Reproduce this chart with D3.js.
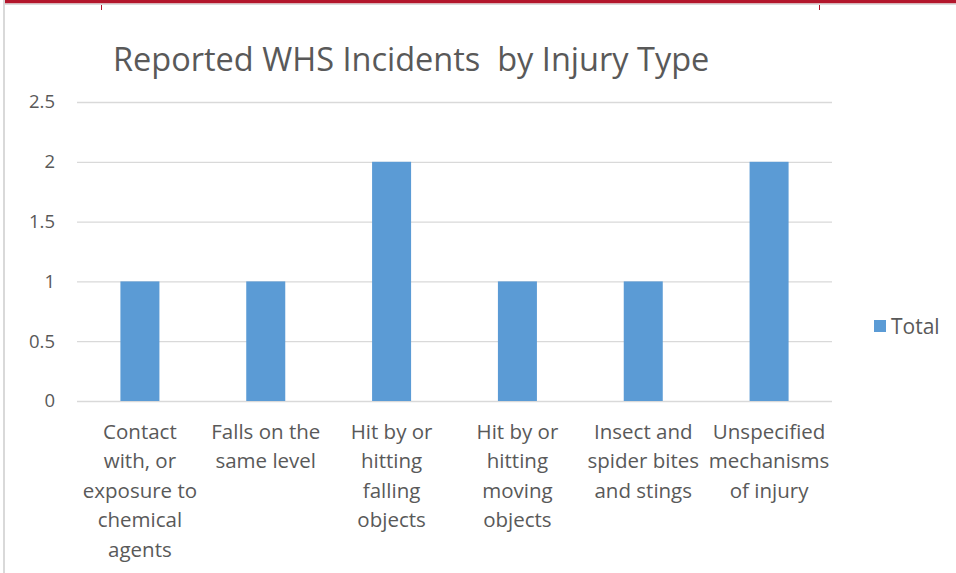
<!DOCTYPE html>
<html>
<head>
<meta charset="utf-8">
<script src="https://cdn.jsdelivr.net/npm/d3@7"></script>
<style>
  body { margin: 0; background: #fff; }
  svg { display: block; }
  text { font-family: "Open Sans", "Noto Sans", sans-serif; fill: #595959; }
</style>
</head>
<body>
<script>
// chart data
var categories = [
  "Contact with, or exposure to chemical agents",
  "Falls on the same level",
  "Hit by or hitting falling objects",
  "Hit by or hitting moving objects",
  "Insect and spider bites and stings",
  "Unspecified mechanisms of injury"
];
// how the axis labels wrap in the original
var categoryLines = [
  ["Contact", "with, or", "exposure to", "chemical", "agents"],
  ["Falls on the", "same level"],
  ["Hit by or", "hitting", "falling", "objects"],
  ["Hit by or", "hitting", "moving", "objects"],
  ["Insect and", "spider bites", "and stings"],
  ["Unspecified", "mechanisms", "of injury"]
];
var totals = [1, 1, 2, 1, 1, 2];
var yTicks = [0, 0.5, 1, 1.5, 2, 2.5];
var seriesName = "Total";
var chartTitle = "Reported WHS Incidents  by Injury Type";

var svgWidth = 956;
var svgHeight = 573;

var margin = { top: 102, left: 77, right: 124, bottom: 172 };
var width = svgWidth - margin.left - margin.right;
var height = svgHeight - margin.top - margin.bottom;

var svg = d3.select("body")
  .append("svg")
  .attr("width", svgWidth)
  .attr("height", svgHeight);

// page decoration: red band on top and grey frame
svg.append("rect").attr("x", 4).attr("y", 0).attr("width", svgWidth - 4).attr("height", 3.5).attr("fill", "#b3162c");
svg.append("rect").attr("x", 4).attr("y", 3.5).attr("width", svgWidth - 4).attr("height", 1.5).attr("fill", "#dcdcdc");
svg.append("rect").attr("x", 3).attr("y", 0).attr("width", 2).attr("height", svgHeight).attr("fill", "#d9d9d9");
[101.5, 819.5].forEach(function (x) {
  svg.append("line").attr("x1", x).attr("x2", x).attr("y1", 5).attr("y2", 10)
    .attr("stroke", "#b3162c").attr("stroke-width", 1);
});

var chartGroup = svg.append("g")
  .attr("transform", `translate(${margin.left}, ${margin.top})`);

var xScale = d3.scaleBand()
  .domain(categories)
  .range([0, width])
  .paddingInner(0.69)
  .paddingOuter(0.345);

var yScale = d3.scaleLinear()
  .domain([0, 2.5])
  .range([height, 0]);

// gridlines
chartGroup.append("g")
  .selectAll("line")
  .data(yTicks)
  .enter()
  .append("line")
  .attr("x1", 0)
  .attr("x2", width)
  .attr("y1", d => yScale(d) + 0.5)
  .attr("y2", d => yScale(d) + 0.5)
  .attr("stroke", "#d9d9d9")
  .attr("stroke-width", 1.3);

// y axis labels
var leftAxis = d3.axisLeft(yScale).tickValues(yTicks).tickSize(0).tickPadding(22).tickFormat(d3.format("~g"));
var yAxisG = chartGroup.append("g").call(leftAxis);
yAxisG.select(".domain").remove();
yAxisG.selectAll("text")
  .style("font-size", "18.5px")
  .style("font-family", "'Open Sans', sans-serif")
  .attr("fill", "#595959");

// bars
chartGroup.selectAll("rect.bar")
  .data(totals)
  .enter()
  .append("rect")
  .attr("class", "bar")
  .attr("x", (d, i) => xScale(categories[i]))
  .attr("y", d => yScale(d))
  .attr("width", xScale.bandwidth())
  .attr("height", d => height - yScale(d))
  .attr("fill", "#5b9bd5");

// category labels
var catG = chartGroup.selectAll("g.cat")
  .data(categoryLines)
  .enter()
  .append("g")
  .attr("class", "cat")
  .attr("transform", (d, i) => `translate(${xScale(categories[i]) + xScale.bandwidth() / 2}, ${height + 38})`);

catG.selectAll("text")
  .data(d => d)
  .enter()
  .append("text")
  .attr("x", 0)
  .attr("y", (d, i) => i * 29.4)
  .attr("text-anchor", "middle")
  .style("font-size", "20.5px")
  .text(d => d);

// title
svg.append("text")
  .attr("x", 113)
  .attr("y", 71)
  .style("font-size", "32.5px")
  .attr("xml:space", "preserve")
  .text(chartTitle);

// legend
var legend = svg.append("g").attr("transform", "translate(874, 320)");
legend.append("rect").attr("width", 12).attr("height", 12).attr("fill", "#5b9bd5");
legend.append("text")
  .attr("x", 17)
  .attr("y", 14)
  .style("font-size", "21px")
  .text(seriesName);
</script>
</body>
</html>
